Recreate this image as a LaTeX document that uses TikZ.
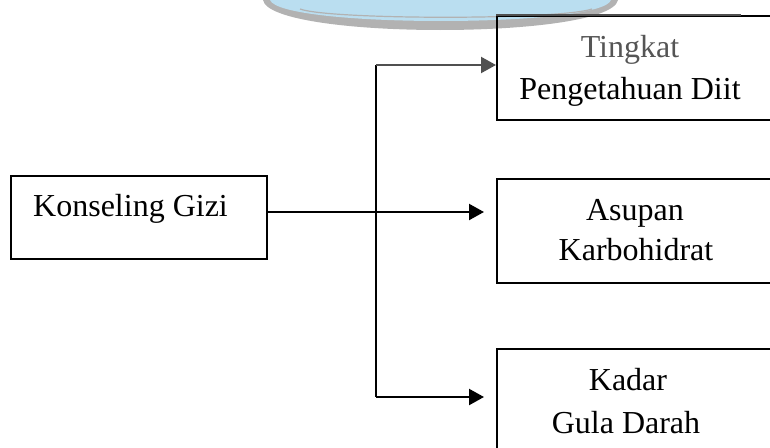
\documentclass[tikz,border=0pt]{standalone}
\usepackage{fontspec}
\setmainfont{Liberation Serif}
\usetikzlibrary{arrows.meta}
\definecolor{wmblue}{RGB}{186,222,240}
\definecolor{wmgray}{RGB}{178,178,178}
\definecolor{linegray}{RGB}{80,80,80}
\definecolor{txtgray}{RGB}{85,85,85}
\tikzset{
  box/.style={draw=black,line width=2pt,rectangle,inner sep=0pt,minimum height=104pt},
  lbl/.style={anchor=base,inner sep=0pt,font=\fontsize{32}{38}\selectfont},
  conn/.style={line width=2.2pt,black},
  arr/.style={conn,-{Triangle[length=15pt,width=16pt]}},
}
\begin{document}
\begin{tikzpicture}[x=1pt,y=-1pt]
\useasboundingbox (0,0) rectangle (770,447);
\clip (0,0) rectangle (770,447);
% watermark
\fill[wmgray] (263,0) .. controls (270,40) and (610,40) .. (618,0) -- cycle;
\fill[wmblue] (270,0) .. controls (280,28) and (602,28) .. (611,0) -- cycle;
\draw[wmgray,line width=1.2pt] (300,9) .. controls (330,20) and (560,20) .. (592,9);
% boxes
\node[box,minimum width=256pt,minimum height=83pt] (gizi) at (139,217.5) {};
\node[box,minimum width=303pt] (diit) at (648.5,68) {};
\node[box,minimum width=303pt] (karbo) at (648.5,231) {};
\node[box,minimum width=303pt] (gula) at (648.5,401) {};
\draw[linegray,line width=2pt] (diit.north west) -- ++(245,0) coordinate (diitgray);
% texts
\node[lbl,anchor=base west] (tgizi) at (33,216) {Konseling Gizi};
\node[lbl,text=txtgray] (tdiit1) at (630,57) {Tingkat};
\node[lbl] (tdiit2) at (630,99) {Pengetahuan Diit};
\node[lbl] (tkarbo1) at (635,220) {Asupan};
\node[lbl] (tkarbo2) at (636,260) {Karbohidrat};
\node[lbl] (tgula1) at (628,390) {Kadar};
\node[lbl] (tgula2) at (626,433) {Gula Darah};
% connectors
\coordinate (start) at (gizi.east |- 0,212);
\coordinate (midend) at (484,212);
\coordinate (vtop) at (376,65);
\coordinate (vbot) at (376,397);
\coordinate (botend) at (484,397);
\draw[conn] (vtop) -- (vbot);
\draw[arr] (start) -- (midend);
\draw[arr,linegray] (vtop) -- (vtop -| diit.west);
\draw[arr] (vbot) -- (botend);
\end{tikzpicture}
\end{document}
